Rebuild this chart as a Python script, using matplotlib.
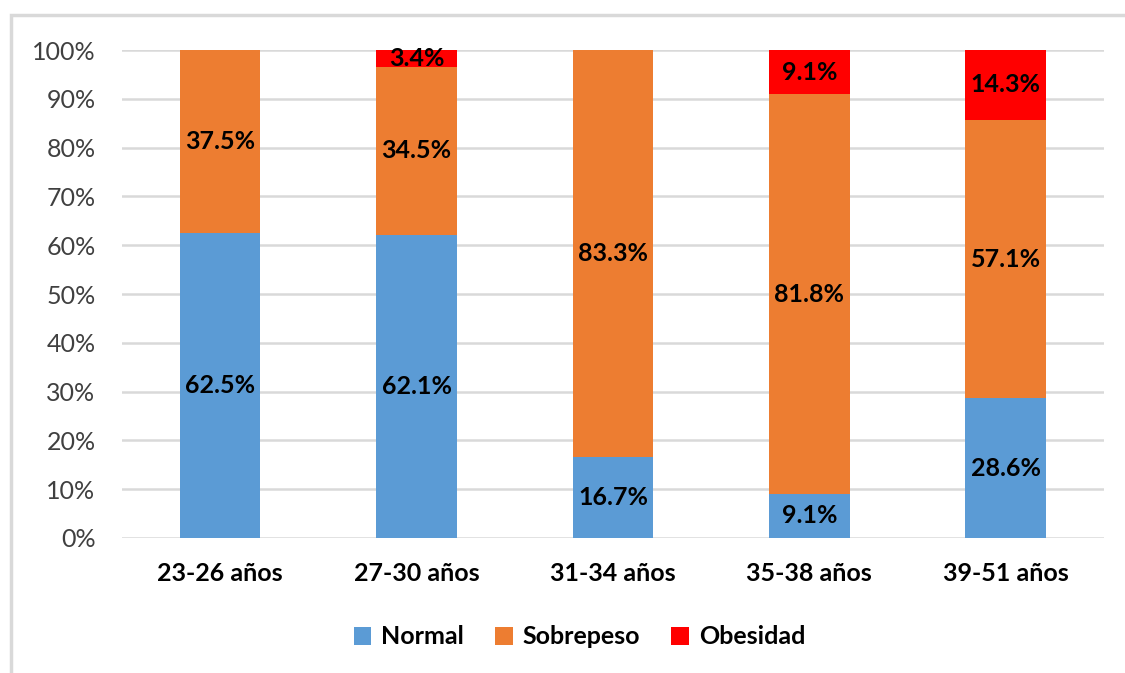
import numpy as np
import matplotlib
matplotlib.use('Agg')
import matplotlib.pyplot as plt
from matplotlib.patches import Rectangle
from matplotlib.ticker import FuncFormatter

plt.rcParams['font.family'] = ['Lato', 'DejaVu Sans']

# ---- data ----
grupos = ['23-26 años', '27-30 años', '31-34 años', '35-38 años', '39-51 años']
normal = [62.5, 62.1, 16.7, 9.1, 28.6]
sobrepeso = [37.5, 34.5, 83.3, 81.8, 57.1]
obesidad = [0.0, 3.4, 0.0, 9.1, 14.3]

series = [('Normal', normal, '#5B9BD5'),
          ('Sobrepeso', sobrepeso, '#ED7D31'),
          ('Obesidad', obesidad, '#FF0000')]

fig = plt.figure(figsize=(11.25, 6.73), dpi=100)
ax = fig.add_axes([0.1084, 0.2006, 0.8729, 0.7251])

# light frame round the chart area
fig.patches.append(Rectangle((11 / 1125, -0.1), 1.2, 1 - 15 / 673 + 0.1,
                             transform=fig.transFigure, fill=False,
                             edgecolor='#D9D9D9', linewidth=2.5, zorder=0))

x = np.arange(len(grupos))
bottom = np.zeros(len(grupos))
for nombre, vals, color in series:
    vals = np.array(vals)
    ax.bar(x, vals, width=0.41, bottom=bottom, color=color, label=nombre, zorder=3)
    for xi, b, v in zip(x, bottom, vals):
        if v > 0:
            ax.text(xi, b + v / 2, '%.1f%%' % v, ha='center', va='center',
                    fontsize=18, fontweight='bold', color='black', zorder=4)
    bottom += vals

ax.set_xlim(-0.5, len(grupos) - 0.5)
ax.set_ylim(0, 100)
ax.set_yticks(np.arange(0, 101, 10))
ax.yaxis.set_major_formatter(FuncFormatter(lambda v, p: '%d%%' % v))
ax.set_xticks(x)
ax.set_xticklabels(grupos, fontsize=18, fontweight='bold')
ax.tick_params(axis='y', labelsize=18, length=0, pad=19, labelcolor='#404040')
ax.tick_params(axis='x', length=0, pad=17)
ax.grid(axis='y', color='#D9D9D9', linewidth=1.8, zorder=0)
ax.set_axisbelow(True)
for s in ax.spines.values():
    s.set_visible(False)

ax.legend(loc='center', bbox_to_anchor=(0.515, 1 - 637 / 673), bbox_transform=fig.transFigure,
          ncol=3, frameon=False, prop={'weight': 'bold', 'size': 18},
          handlelength=0.7, handleheight=0.7, handletextpad=0.4, columnspacing=1.25)

fig.savefig('out.png', dpi=100)
